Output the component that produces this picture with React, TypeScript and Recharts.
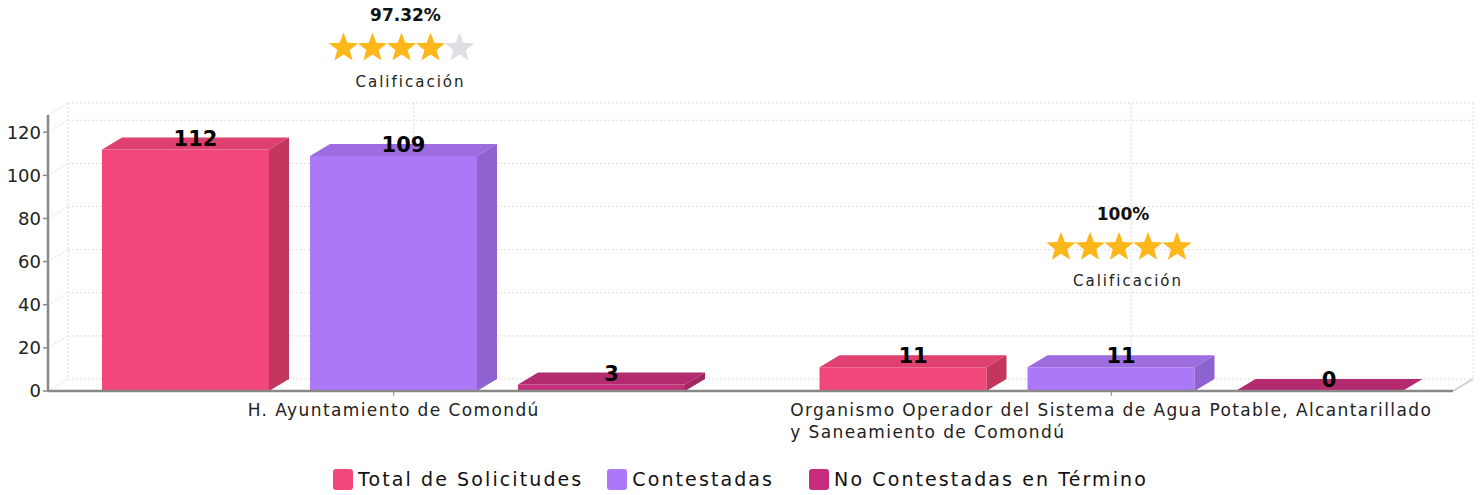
import React from 'react';
import { BarChart, Bar, XAxis, YAxis, CartesianGrid, LabelList } from 'recharts';

// categories split in the lines shown under the axis
const categoryLines = [
  ['H. Ayuntamiento de Comondú'],
  ['Organismo Operador del Sistema de Agua Potable, Alcantarillado', 'y Saneamiento de Comondú'],
];
const totals = [112, 11];
const answered = [109, 11];
const lateAnswers = [3, 0];
const ratings = ['97.32%', '100%'];
const ratingStars = [4, 5];
const yTicks = [0, 20, 40, 60, 80, 100, 120];

const FONT = "'DejaVu Sans', sans-serif";
const DX = 20;
const DY = -12;

const series = [
  { key: 'total', name: 'Total de Solicitudes', front: '#F2477A', top: '#DE416F', side: '#C3375D', legend: '#F2477A', gap: 0 },
  { key: 'answered', name: 'Contestadas', front: '#AB79F8', top: '#9D6DE0', side: '#8F63CF', legend: '#AC78F7', gap: 24 },
  { key: 'late', name: 'No Contestadas en Término', front: '#C42F7A', top: '#B42A6F', side: '#A2265F', legend: '#C62E7D', gap: 35 },
];

const data = categoryLines.map((lines, i) => ({
  name: lines.join(' '),
  total: totals[i],
  answered: answered[i],
  late: lateAnswers[i],
}));

const make3DShape = (s: any) => (props: any) => {
  const { x, y, width: w, height: h } = props;
  if (x == null || y == null) return null;
  return (
    <g>
      <rect x={x} y={y} width={w} height={Math.max(h, 0)} fill={s.front} />
      <polygon points={`${x},${y} ${x + DX},${y + DY} ${x + w + DX},${y + DY} ${x + w},${y}`} fill={s.top} />
      <polygon points={`${x + w},${y} ${x + w + DX},${y + DY} ${x + w + DX},${y + h + DY} ${x + w},${y + h}`} fill={s.side} />
    </g>
  );
};

const ValueLabel = (props: any) => {
  const { x, y, width, value } = props;
  return (
    <text x={x + width / 2 + DX / 2} y={y + DY + 1} textAnchor="middle" dominantBaseline="central"
      fontFamily={FONT} fontWeight={700} fontSize={21} fill="#000">
      {value}
    </text>
  );
};

const starPath = (cx: number, cy: number, R: number, r: number) => {
  const pts: string[] = [];
  for (let i = 0; i < 10; i++) {
    const rad = i % 2 === 0 ? R : r;
    const a = -Math.PI / 2 + (i * Math.PI) / 5;
    pts.push(`${(cx + rad * Math.cos(a)).toFixed(2)},${(cy + rad * Math.sin(a)).toFixed(2)}`);
  }
  return `M${pts.join('L')}Z`;
};

const RatingLabel = (props: any) => {
  const { x, y, width, index } = props;
  const cx = x + width / 2 + DX / 2;
  const topBack = y + DY;
  const shift = Math.max(0, 15 - (topBack - 141));
  const py = topBack - 141 + shift;
  const sy = topBack - 108 + shift;
  const cy = topBack - 74 + shift;
  const n = ratingStars[index];
  return (
    <g>
      <text x={cx + 2} y={py} textAnchor="middle" dominantBaseline="central" fontFamily={FONT}
        fontWeight={700} fontSize={17} fill="#111">
        {ratings[index]}
      </text>
      {[0, 1, 2, 3, 4].map((k) => (
        <path key={k} d={starPath(cx - 2 + (k - 2) * 29, sy, 15.5, 6.5)} fill={k < n ? '#FDB71A' : '#DEDEE4'} />
      ))}
      <text x={cx + 7} y={cy} textAnchor="middle" dominantBaseline="central" fontFamily={FONT}
        fontSize={15} letterSpacing={2} fill="#222">
        Calificación
      </text>
    </g>
  );
};

const CategoryTick = (props: any) => {
  const { x, y, index } = props;
  const lines = categoryLines[index] || [];
  return (
    <foreignObject x={x - 450} y={y + 1} width={900} height={60}>
      <div style={{ textAlign: 'center', fontFamily: FONT, fontSize: 17, lineHeight: '22px', letterSpacing: 1.4, color: '#222' }}>
        <span style={{ display: 'inline-block', textAlign: 'left', whiteSpace: 'nowrap' }}>
          {lines.map((l, i) => <div key={i}>{l}</div>)}
        </span>
      </div>
    </foreignObject>
  );
};

const gridStyle = { stroke: '#DDDDDD', strokeWidth: 1, strokeDasharray: '2 2' };

const BackHLine = (props: any) => {
  const { x1, y1, x2, y2, index } = props;
  const isFloor = props.y != null && props.height != null ? Math.abs(y1 - (props.y + props.height)) < 1 : false;
  return (
    <g key={`h-${index}`}>
      <line x1={x1} y1={y1} x2={x1 + DX} y2={y1 + DY} {...gridStyle} />
      <line x1={x1 + DX} y1={y1 + DY} x2={x2 + DX} y2={y2 + DY} {...gridStyle} />
      {isFloor && <line x1={x2} y1={y2} x2={x2 + DX} y2={y2 + DY} stroke="#CCCCCC" strokeWidth={1.5} />}
    </g>
  );
};

const BackVLine = (props: any) => {
  const { x1, y1, x2, y2, index } = props;
  return <line key={`v-${index}`} x1={x1 + DX} y1={y1 + DY} x2={x2 + DX} y2={y2 + DY} {...gridStyle} />;
};

const Legend = () => (
  <div style={{ position: 'absolute', left: 0, top: 468, width: 1481, display: 'flex', justifyContent: 'center',
    fontFamily: FONT, fontSize: 19, letterSpacing: 2.1, color: '#111' }}>
    {series.map((s) => (
      <div key={s.key} style={{ display: 'flex', alignItems: 'center', marginLeft: s.gap }}>
        <span style={{ width: 20, height: 21, borderRadius: 3, background: s.legend, marginRight: 5, display: 'inline-block' }} />
        <span>{s.name}</span>
      </div>
    ))}
  </div>
);

export default function App() {
  return (
    <div style={{ position: 'absolute', left: 0, top: 0, width: 1481, height: 495, background: '#fff' }}>
      <BarChart width={1481} height={495} data={data}
        margin={{ top: 115, right: 28, bottom: 44, left: 0 }}
        barSize={167} barGap={41}>
        <CartesianGrid horizontal={BackHLine} vertical={BackVLine} />
        <YAxis domain={[0, 128]} ticks={yTicks} width={48} allowDataOverflow
          axisLine={{ stroke: '#888', strokeWidth: 2.5 }} tickLine={{ stroke: '#888', strokeWidth: 1.5 }}
          tickSize={5} tickMargin={2}
          tick={{ fontFamily: FONT, fontSize: 18, fill: '#222' }} />
        <XAxis dataKey="name" height={60} padding={{ left: -13, right: -17 }}
          axisLine={{ stroke: '#888', strokeWidth: 2.5 }} tickLine={{ stroke: '#888' }} tickSize={5}
          tick={<CategoryTick />} interval={0} />
        {series.map((s) => (
          <Bar key={s.key} dataKey={s.key} name={s.name} isAnimationActive={false} shape={make3DShape(s)}>
            <LabelList dataKey={s.key} content={<ValueLabel />} />
            {s.key === 'answered' && <LabelList dataKey={s.key} content={<RatingLabel />} />}
          </Bar>
        ))}
      </BarChart>
      <Legend />
    </div>
  );
}
